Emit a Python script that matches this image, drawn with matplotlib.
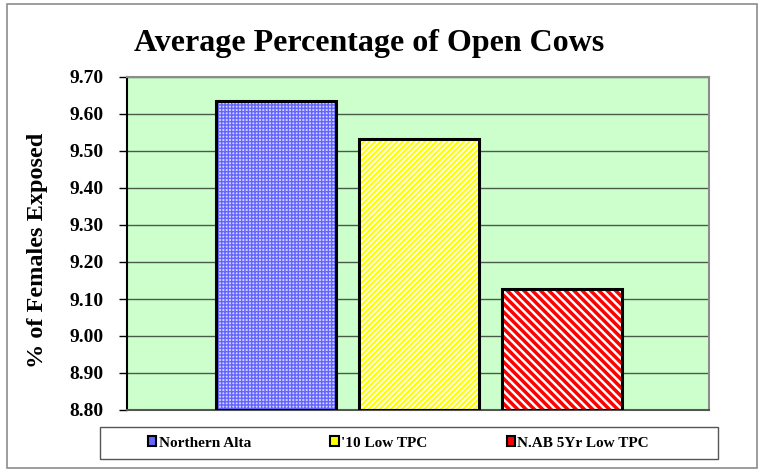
import matplotlib
matplotlib.use('Agg')
import matplotlib.pyplot as plt
from matplotlib.patches import Rectangle

# data
series = ["Northern Alta", "'10 Low TPC", "N.AB 5Yr Low TPC"]
values = [9.635, 9.532, 9.128]
yticks = [8.80, 8.90, 9.00, 9.10, 9.20, 9.30, 9.40, 9.50, 9.60, 9.70]

fills = ['#d2d2ff', 'white', 'white']
hatch_colors = ['#6464ff', '#ffff00', '#ff0000']
hatches = ['+++++', '//////', '\\\\\\\\']
hatch_widths = [1.0, 1.6, 2.5]

plt.rcParams['font.family'] = ['Liberation Serif', 'DejaVu Serif']
plt.rcParams['font.weight'] = 'bold'

fig = plt.figure(figsize=(7.62, 4.72), dpi=100)
ax = fig.add_axes([127/762, 1-410/472, 582/762, 333/472])

# outer chart border
fig.patches.append(Rectangle((7/762, 4/472), 750/762, 464/472, transform=fig.transFigure,
                             fill=False, edgecolor='#8c8c8c', linewidth=1.2))

ax.set_facecolor('#ccffcc')
xpos = [0.2565, 0.502, 0.7475]
width = 0.206
for i in range(3):
    plt.rcParams['hatch.linewidth'] = hatch_widths[i]
    ax.bar(xpos[i], values[i] - 8.8, width, bottom=8.8, color=fills[i],
           hatch=hatches[i], edgecolor=hatch_colors[i], linewidth=0, zorder=2)
    ax.bar(xpos[i], values[i] - 8.8, width, bottom=8.8, fill=False,
           edgecolor='black', linewidth=2.2, zorder=3)

ax.set_xlim(0, 1)
ax.set_ylim(8.8, 9.7)
ax.set_yticks(yticks)
ax.set_yticklabels([f'{t:.2f}' for t in yticks], fontsize=14, fontweight='bold')
ax.set_xticks([])
ax.yaxis.grid(True, color='#4a5a4a', linewidth=1.0)
ax.set_axisbelow(True)
ax.tick_params(axis='y', length=5.8, width=1, direction='out', pad=11)
ax.spines['left'].set_color('black')
ax.spines['bottom'].set_color('#555555')
ax.spines['top'].set_color('#8c8c8c')
ax.spines['right'].set_color('#8c8c8c')
for s in ax.spines.values():
    s.set_linewidth(1.5)

fig.text(38/762, 1-250/472, '% of Females Exposed', rotation=90, ha='center', va='center',
         fontsize=17.5, fontweight='bold')
fig.text(369/762, 1-43/472, 'Average Percentage of Open Cows', ha='center', va='center',
         fontsize=23, fontweight='bold')

# legend box
fig.patches.append(Rectangle((100/762, 1-459/472), 618/762, 32/472, transform=fig.transFigure,
                             fill=False, edgecolor='#555555', linewidth=1.0))
handles = [Rectangle((0, 0), 1, 1, facecolor=hatch_colors[i], edgecolor='black', linewidth=1.5)
           for i in range(3)]
leg = fig.legend(handles, series, loc='center left', ncol=3,
                 bbox_to_anchor=(148/762, 1-443/472), frameon=False,
                 handlelength=0.55, handleheight=0.55, handletextpad=0.15,
                 columnspacing=5.2, borderaxespad=0, borderpad=0,
                 prop={'size': 11, 'weight': 'bold'})

fig.savefig('out.png', dpi=100)
